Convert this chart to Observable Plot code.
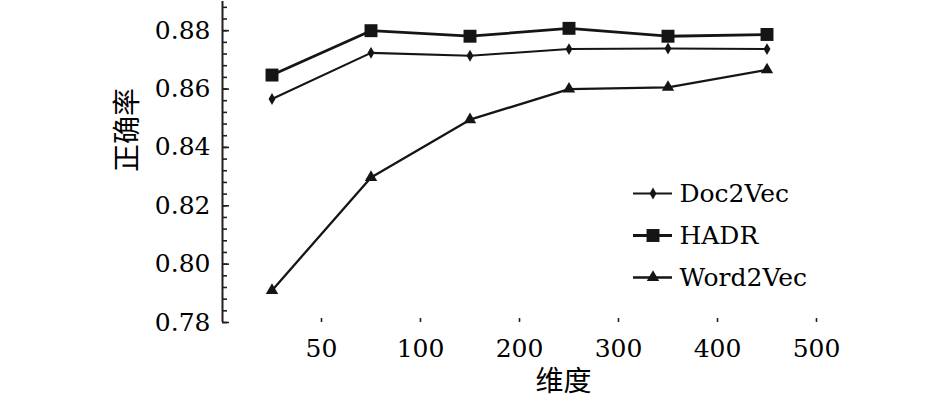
<!DOCTYPE html>
<html><head><meta charset="utf-8">
<script src="https://cdn.jsdelivr.net/npm/d3@7"></script>
<script src="https://cdn.jsdelivr.net/npm/@observablehq/plot@0.6"></script>
<style>
body{margin:0;background:#fff}
#wrap{position:relative;width:945px;height:403px;background:#fff}
#legend{position:absolute;left:630px;top:170px}
</style>
</head><body><div id="wrap"><div id="chart"></div><div id="legend"></div></div>
<script>
// ---- data ----
const dims = ["50", "100", "200", "300", "400", "500"];
const seriesNames = ["Doc2Vec", "HADR", "Word2Vec"];
const doc2vec  = [0.8566, 0.8724, 0.8714, 0.8737, 0.8739, 0.8737];
const hadr     = [0.8648, 0.8800, 0.8781, 0.8808, 0.8781, 0.8787];
const word2vec = [0.7910, 0.8297, 0.8495, 0.8600, 0.8606, 0.8666];
const yMajorTicks = [0.78, 0.80, 0.82, 0.84, 0.86, 0.88];
const yLabel = "正确率";
const xLabel = "维度";

// ---- styling ----
const values = [doc2vec, hadr, word2vec];
const symbols = ["diamond", "square", "triangle"];
const radii = [3.6, 7.3, 4.6];
const widths = [2.1, 2.8, 2.3];
const ink = "#151515";
const serif = "'DejaVu Serif','Noto Sans CJK SC',serif";
const fs = 25;

const xPos = dims.map((d, i) => i + 0.5);     // points sit in the middle of each category band
const xTickPos = dims.map((d, i) => i + 1);   // labels sit on the band boundaries (as in the original)
const yMinorTicks = d3.range(0, 28).map(k => +(0.78 + k * 0.004).toFixed(3));

const rows = seriesNames.map((s, k) => values[k].map((v, i) => ({series: s, x: xPos[i], y: v})));

const chart = Plot.plot({
  width: 945, height: 403,
  marginLeft: 222, marginRight: 129, marginTop: 1, marginBottom: 81,
  style: `font-family: ${serif}; font-size: ${fs}px; color: #000; background: #fff;`,
  x: {domain: [0, 6], label: null},
  y: {domain: [0.78, 0.89], label: null},
  marks: [
    Plot.ruleX([0], {stroke: "#231f20", strokeWidth: 2}),
    Plot.axisY(yMinorTicks, {tickSize: -5, text: null, stroke: "#231f20", strokeWidth: 1.6, label: null}),
    Plot.axisY(yMajorTicks, {tickSize: -7, text: null, stroke: "#231f20", strokeWidth: 1.6, label: null}),
    Plot.axisY(yMajorTicks, {tickSize: 0, tickPadding: 12, tickFormat: d => d.toFixed(2), fontSize: fs, fontFamily: serif, fill: "#000", label: null}),
    Plot.axisX(xTickPos, {tickSize: -4, text: null, stroke: "#231f20", strokeWidth: 1.6, label: null}),
    Plot.axisX(xTickPos, {tickSize: 0, tickPadding: 17, tickFormat: d => dims[d - 1], fontSize: fs, fontFamily: serif, fill: "#000", label: null}),
    ...rows.map((r, k) => Plot.line(r, {x: "x", y: "y", stroke: ink, strokeWidth: widths[k]})),
    ...rows.map((r, k) => Plot.dot(r, {x: "x", y: "y", symbol: symbols[k], r: radii[k], fill: ink, stroke: "none"})),
    Plot.text([yLabel], {text: d => d, frameAnchor: "left", dx: -94, dy: 10, rotate: -90, fontSize: 28, fontFamily: serif, fill: "#000"}),
    Plot.text([xLabel], {text: d => d, frameAnchor: "bottom", dx: 44, dy: 68, fontSize: 28, fontFamily: serif, fill: "#000"})
  ]
});
document.getElementById("chart").appendChild(chart);

const legend = Plot.plot({
  width: 215, height: 130, margin: 0,
  style: `font-family: ${serif}; font-size: ${fs}px; color: #000; background: transparent;`,
  x: {domain: [0, 1], range: [3, 42], axis: null},
  y: {type: "point", domain: seriesNames, range: [23, 107], padding: 0, axis: null},
  marks: [
    ...seriesNames.map((s, k) => Plot.ruleY([s], {y: d => d, x1: 0, x2: 1, stroke: ink, strokeWidth: widths[k]})),
    ...seriesNames.map((s, k) => Plot.dot([s], {x: () => 0.5, y: d => d, symbol: symbols[k], r: radii[k], fill: ink, stroke: "none"})),
    Plot.text(seriesNames, {x: () => 1, y: d => d, text: d => d, dx: 7, textAnchor: "start", fontSize: fs, fontFamily: serif, fill: "#000"})
  ]
});
document.getElementById("legend").appendChild(legend);
</script>
</body></html>
